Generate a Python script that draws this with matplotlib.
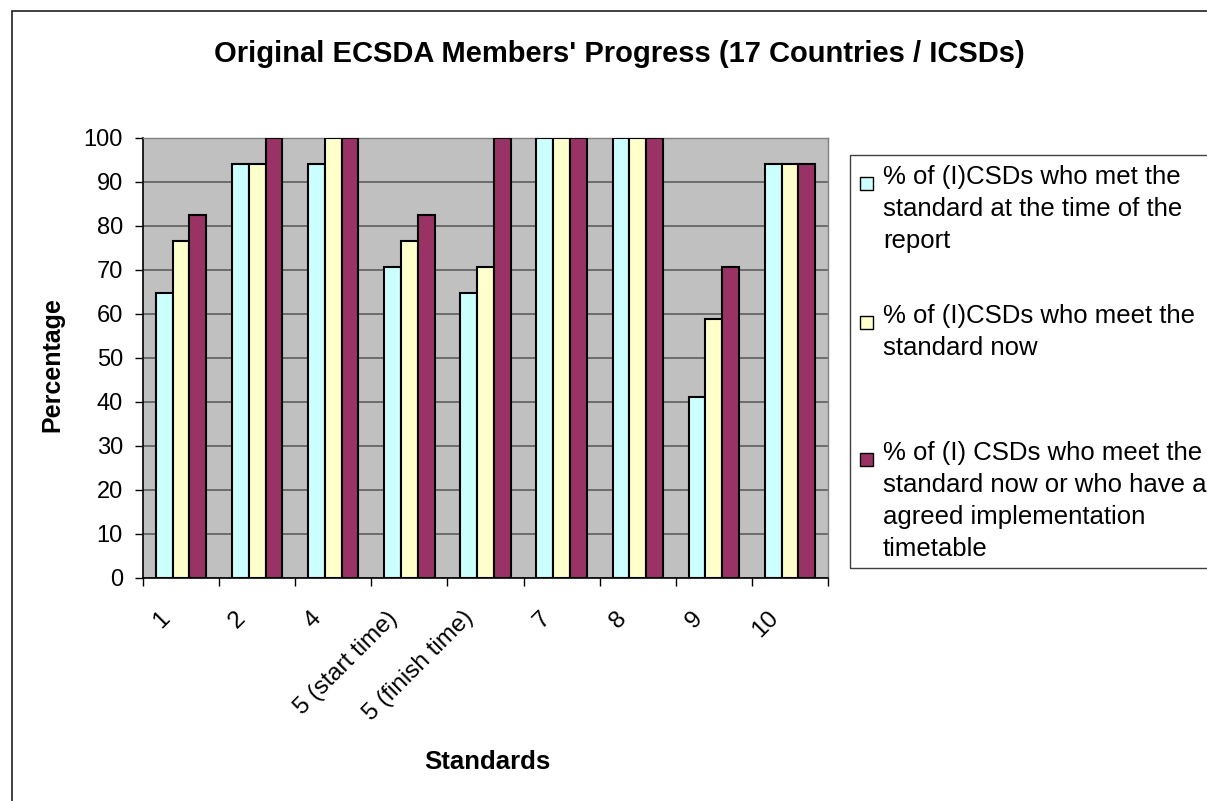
import numpy as np
import matplotlib
matplotlib.use('Agg')
import matplotlib.pyplot as plt
from matplotlib.patches import Rectangle
from matplotlib.transforms import ScaledTranslation

plt.rcParams['font.family'] = ['Liberation Sans', 'DejaVu Sans']

# data (share of 17 CSDs, in %)
standards = ['1', '2', '4', '5 (start time)', '5 (finish time)', '7', '8', '9', '10']
met_at_report = [64.7, 94.1, 94.1, 70.6, 64.7, 100, 100, 41.2, 94.1]
meet_now = [76.5, 94.1, 100, 76.5, 70.6, 100, 100, 58.8, 94.1]
meet_or_agreed = [82.4, 100, 100, 82.4, 100, 100, 100, 70.6, 94.1]
series_labels = [
    "% of (I)CSDs who met the\nstandard at the time of the\nreport",
    "% of (I)CSDs who meet the\nstandard now",
    "% of (I) CSDs who meet the\nstandard now or who have an\nagreed implementation\ntimetable",
]
colors = ['#CCFFFF', '#FFFFCC', '#993366']

W, H = 1207, 801
fig = plt.figure(figsize=(W / 100, H / 100), dpi=100, facecolor='white')


def fx(x):
    return x / W


def fy(y):
    return 1 - y / H


# outer chart border (cropped on the right / bottom)
fig.patches.append(Rectangle((fx(12), fy(830)), fx(1250), fy(11) - fy(830),
                             transform=fig.transFigure, fill=False,
                             edgecolor='#202020', linewidth=1.2))

ax = fig.add_axes([fx(143), fy(578), fx(828) - fx(143), fy(138) - fy(578)])
ax.set_facecolor('#C0C0C0')

x = np.arange(len(standards))
bw = 0.22
for i, (vals, col) in enumerate(zip([met_at_report, meet_now, meet_or_agreed], colors)):
    ax.bar(x + (i - 1) * bw, vals, width=bw, color=col, edgecolor='black',
           linewidth=1.5, zorder=3)

ax.set_xlim(-0.5, len(standards) - 0.5)
ax.set_ylim(0, 100)
ax.set_yticks(np.arange(0, 101, 10))
ax.yaxis.grid(True, color='#555555', linewidth=1.1, zorder=0)
ax.set_axisbelow(True)

ax.tick_params(axis='y', direction='out', length=6, width=1, color='black',
               labelsize=17, pad=8.5)
ax.set_xticks(x)
ax.set_xticks(np.arange(-0.5, len(standards), 1), minor=True)
ax.tick_params(axis='x', which='minor', direction='out', length=6, width=1,
               color='black')
ax.tick_params(axis='x', which='major', length=0, pad=26.5)
ax.set_xticklabels(standards, fontsize=17.5, rotation=45, ha='right', va='center',
                   rotation_mode='anchor')
shift = ScaledTranslation(-0.15, 0, fig.dpi_scale_trans)
for lab in ax.get_xticklabels():
    lab.set_transform(lab.get_transform() + shift)

for side in ['left', 'bottom']:
    ax.spines[side].set_color('black')
    ax.spines[side].set_linewidth(1.2)
for side in ['top', 'right']:
    ax.spines[side].set_color('#808080')
    ax.spines[side].set_linewidth(1.0)

# titles
fig.text(fx(619), fy(62), "Original ECSDA Members' Progress (17 Countries / ICSDs)",
         ha='center', va='baseline', fontsize=21, fontweight='bold')
fig.text(fx(52), fy(365), 'Percentage', rotation=90, ha='center', va='center',
         fontsize=18, fontweight='bold')
fig.text(fx(487), fy(762), 'Standards', ha='center', va='center',
         fontsize=18.5, fontweight='bold')

# legend box
fig.patches.append(Rectangle((fx(850), fy(568)), fx(500), fy(155) - fy(568),
                             transform=fig.transFigure, fill=False,
                             edgecolor='#404040', linewidth=1.0))
first_baselines = [184, 323, 460]
line_gap = 32
for lbl, col, base in zip(series_labels, colors, first_baselines):
    fig.patches.append(Rectangle((fx(860), fy(base + 6)), fx(13), fy(base - 7) - fy(base + 6),
                                 transform=fig.transFigure, facecolor=col,
                                 edgecolor='black', linewidth=1.0))
    for k, line in enumerate(lbl.split('\n')):
        fig.text(fx(883), fy(base + k * line_gap), line, ha='left', va='baseline',
                 fontsize=18.5)

fig.savefig('out.png', dpi=100, facecolor='white')
